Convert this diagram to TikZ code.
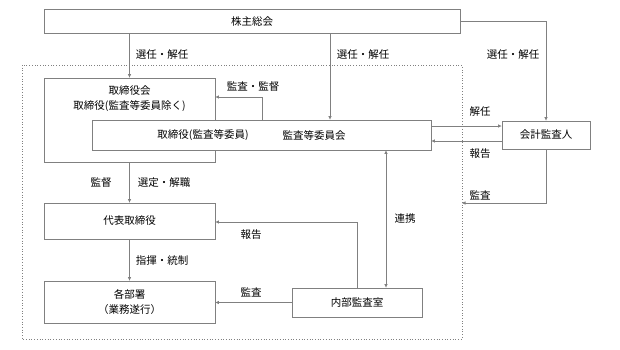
\documentclass[tikz,border=0pt]{standalone}
\usepackage{fontspec}
\setmainfont{Noto Sans CJK JP}
\usetikzlibrary{arrows.meta,positioning}
\definecolor{edge}{gray}{0.50}

\begin{document}
\begin{tikzpicture}[x=1pt, y=-1pt, every node/.style={font=\fontsize{10.5}{15}\selectfont},
    box/.style={draw=edge, fill=white, line width=0.8pt, inner sep=0pt, align=center},
    arr/.style={draw=edge, line width=0.7pt, -{Triangle[length=3.5pt,width=3pt]}},
    twoway/.style={arr, {Triangle[length=3.5pt,width=3pt]}-{Triangle[length=3.5pt,width=3pt]}}]
  \useasboundingbox (0,0) rectangle (620,349);
  % company frame
  \draw[edge, dotted, line width=0.7pt] (22,65) rectangle (462,339);

  \node[box, minimum width=416, minimum height=24] (soukai) at (252,21.5) {株主総会};
  \node[box, minimum width=171, minimum height=84] (torikai) at (129.5,120) {};
  \node[align=center] (torikaiT) at (129.5,98.5) {取締役会\\取締役(監査等委員除く)};
  \node[box, minimum width=339, minimum height=30] (iinkai) at (261.5,135) {};
  \node (iinA) at (203,135) {取締役(監査等委員)};
  \node (iinB) at (314,135) {監査等委員会};
  \node[box, minimum width=88, minimum height=28] (kaikei) at (546,135) {会計監査人};
  \node[box, minimum width=171, minimum height=36] (daihyo) at (129.5,221) {代表取締役};
  \node[box, minimum width=171, minimum height=42] (kakubu) at (129.5,302) {各部署\\（業務遂行）};
  \node[box, minimum width=130, minimum height=29] (naibu) at (357,302.5) {内部監査室};

  \coordinate (selmid) at ([xshift=68.5pt]iinkai.north);
  \coordinate (supv) at ([xshift=0.5pt]iinkai.north);
  \coordinate (renkei) at ([xshift=124.5pt]iinkai.south);
  \coordinate (kansaR) at (462,203);

  % appointments
  \draw[arr] (soukai.south -| torikai.north) -- (torikai.north);
  \draw[arr] (selmid |- soukai.south) -- (selmid);
  \draw[arr] (soukai.east) -| (kaikei.north);
  \draw[arr] (supv) |- ([yshift=23pt]torikai.east);
  \draw[arr] ([yshift=9pt]kaikei.west -| iinkai.east) -- ([yshift=9pt]kaikei.west);
  \draw[arr] ([yshift=-6pt]kaikei.west) -- ([yshift=-6pt]kaikei.west -| iinkai.east);
  \draw[arr] (kaikei.south) |- (kansaR);
  \draw[arr] (torikai.south) -- (daihyo.north);
  \draw[arr] (daihyo.south) -- (kakubu.north);
  \draw[arr] (naibu.west) -- (naibu.west -| kakubu.east);
  \draw[arr] (naibu.north) |- (daihyo.east |- 0,222);
  \draw[twoway] (renkei) -- (renkei |- naibu.north);

  \foreach \x/\y/\t [count=\i] in {162/55/選任・解任, 363/55/選任・解任, 513/55/選任・解任,
      253/87/監査・監督, 480/112/解任, 480/154/報告, 480/195/監査, 101/183/監督,
      164/183/選定・解職, 405/219/連携, 251/235/報告, 162/261/指揮・統制, 251/292/監査}
    \node (lbl\i) at (\x,\y) {\t};
\end{tikzpicture}
\end{document}
